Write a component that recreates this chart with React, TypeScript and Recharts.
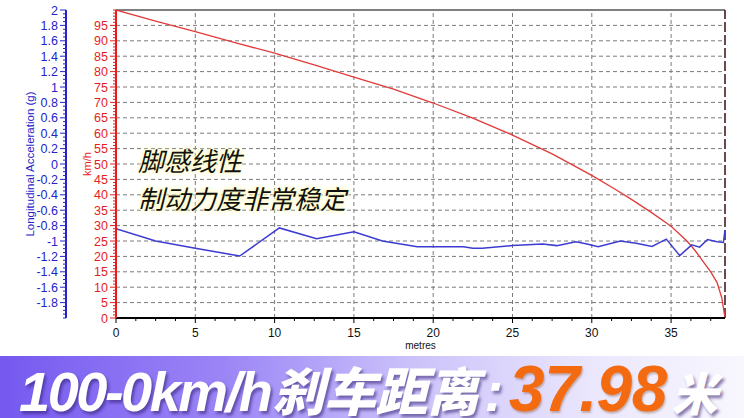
import React from 'react'
import { ComposedChart, Line, XAxis, YAxis, ReferenceLine, Label } from 'recharts'

// speed trace (km/h) vs distance (m)
const speedDist = [0, 2.5, 5, 7.5, 10, 12.5, 15, 17.5, 20, 22.5, 25, 27.5, 30, 31.5, 32.5, 33.75, 35, 36, 36.5, 37, 37.5, 37.9, 38.2, 38.4]
const speedKmh = [100, 96.4, 93, 89.4, 86, 82.2, 78.2, 74.3, 69.8, 64.9, 59.4, 53.3, 46.3, 41.7, 38.5, 34.3, 29.8, 25, 22, 18.5, 15, 11.5, 6.5, 0]

// longitudinal acceleration (g) vs distance (m)
const accelDist = [0, 2.5, 5, 7.8, 10.3, 12.65, 15, 16.8, 19, 21.9, 22.5, 23.1, 25, 26.9, 27.8, 29, 29.7, 30.4, 31.8, 32.8, 33.8, 34.7, 35.55, 36.3, 36.8, 37.3, 37.9, 38.3, 38.4]
const accelG = [-0.84, -1.0, -1.095, -1.195, -0.83, -0.97, -0.88, -1.0, -1.075, -1.075, -1.095, -1.095, -1.06, -1.04, -1.06, -1.01, -1.04, -1.075, -1.0, -1.03, -1.07, -0.975, -1.19, -1.05, -1.08, -0.98, -1.01, -1.02, -0.86]

const xMajor = [0, 5, 10, 15, 20, 25, 30, 35]
const kmhMajor = [0, 5, 10, 15, 20, 25, 30, 35, 40, 45, 50, 55, 60, 65, 70, 75, 80, 85, 90, 95]
const gMajor = [-1.8, -1.6, -1.4, -1.2, -1, -0.8, -0.6, -0.4, -0.2, 0, 0.2, 0.4, 0.6, 0.8, 1, 1.2, 1.4, 1.6, 1.8, 2]
const xGrid = [5, 10, 15, 20, 25, 30, 35]
const kmhGrid = [5, 10, 15, 20, 25, 30, 35, 40, 45, 50, 55, 60, 65, 70, 75, 80, 85, 90, 95]

const RED = '#e41e1e'
const BLUE = '#2424c8'
const LINE_BLUE = '#3c3cd2'
const GRID = '#7a7a7a'
const FONT = '"Liberation Sans", Arial, sans-serif'
const CJK = '"Noto Sans CJK SC", sans-serif'

// axis ids: the one that sorts first sits next to the plot
const KMH = 'a_kmh'
const G = 'b_g'

// minor tick positions for the axis rulers
const steps = (lo: number, hi: number, step: number) => {
  const out: number[] = []
  for (let v = lo; v <= hi + 1e-9; v += step) out.push(Math.round(v * 1000) / 1000)
  return out
}
const has = (arr: number[], v: number) => arr.some((a) => Math.abs(a - v) < 1e-6)

const speedData = speedDist.map((m, i) => ({ m, kmh: speedKmh[i] }))
const accelData = accelDist.map((m, i) => ({ m, g: accelG[i] }))

const LeftTick = (color: string, major: number[]) => (props: any) => {
  const { x, y, payload } = props
  const isMajor = has(major, payload.value)
  return (
    <g>
      <line x1={x - (isMajor ? 6 : 3)} x2={x} y1={y} y2={y} stroke={color} strokeWidth={1} />
      {isMajor && (
        <text x={x - 8} y={y} dy="0.36em" textAnchor="end" fill={color} fontSize={12.5} fontFamily={FONT}>
          {payload.value}
        </text>
      )}
    </g>
  )
}

const BottomTick = (props: any) => {
  const { x, y, payload } = props
  const isMajor = has(xMajor, payload.value)
  return (
    <g>
      <line x1={x} x2={x} y1={y} y2={y + (isMajor ? 5 : 3)} stroke="#000" strokeWidth={1} />
      {isMajor && (
        <text x={x} y={y + 15} dy="0.36em" textAnchor="middle" fill="#111" fontSize={12} fontFamily={FONT}>
          {payload.value}
        </text>
      )}
    </g>
  )
}

const whiteShadow = '2px 3px 3px rgba(50,30,110,0.55)'

export default function App() {
  return (
    <div style={{ position: 'fixed', left: 0, top: 0, width: 744, height: 418, background: '#fff', overflow: 'hidden' }}>
      <ComposedChart width={744} height={418} margin={{ top: 10, right: 19, left: 0, bottom: 70 }}>
        <XAxis
          xAxisId="m"
          type="number"
          dataKey="m"
          domain={[0, 38.4]}
          allowDataOverflow
          ticks={steps(0, 37.5, 1.25)}
          interval={0}
          tick={BottomTick}
          tickLine={false}
          tickSize={0}
          tickMargin={0}
          height={30}
          axisLine={{ stroke: '#000', strokeWidth: 2 }}
        >
          <Label value="metres" position="insideBottom" offset={-1} fontSize={10} fill="#111" fontFamily={FONT} />
        </XAxis>
        <YAxis
          yAxisId={KMH}
          orientation="left"
          type="number"
          domain={[0, 100]}
          allowDataOverflow
          ticks={steps(0, 100, 1)}
          interval={0}
          tick={LeftTick(RED, kmhMajor)}
          tickLine={false}
          tickSize={0}
          tickMargin={0}
          width={50}
          axisLine={{ stroke: RED, strokeWidth: 2 }}
        >
          <Label value="km/h" angle={-90} position="center" dx={-4} fontSize={11} fill={RED} fontFamily={FONT} />
        </YAxis>
        <YAxis
          yAxisId={G}
          orientation="left"
          type="number"
          domain={[-2, 2]}
          allowDataOverflow
          ticks={steps(-2, 2, 0.05)}
          interval={0}
          tick={LeftTick(BLUE, gMajor)}
          tickLine={false}
          tickSize={0}
          tickMargin={0}
          width={66}
          axisLine={{ stroke: BLUE, strokeWidth: 2 }}
        >
          <Label value="Longitudinal Acceleration (g)" angle={-90} position="center" dx={-3} fontSize={11.5} fill={BLUE} fontFamily={FONT} />
        </YAxis>

        {kmhGrid.map((v) => (
          <ReferenceLine key={'h' + v} xAxisId="m" yAxisId={KMH} y={v} stroke={GRID} strokeDasharray="4 3" />
        ))}
        {xGrid.map((v) => (
          <ReferenceLine key={'v' + v} xAxisId="m" yAxisId={KMH} x={v} stroke={GRID} strokeDasharray="4 3" />
        ))}
        <ReferenceLine xAxisId="m" yAxisId={KMH} y={100} stroke="#555" strokeWidth={1.5} />
        <ReferenceLine xAxisId="m" yAxisId={KMH} x={38.4} stroke="#3a1010" strokeWidth={1.5} strokeDasharray="10 3" />

        <Line
          xAxisId="m"
          yAxisId={KMH}
          data={speedData}
          dataKey="kmh"
          type="linear"
          stroke="#e23a3a"
          strokeWidth={1.3}
          dot={false}
          isAnimationActive={false}
        />
        <Line
          xAxisId="m"
          yAxisId={G}
          data={accelData}
          dataKey="g"
          type="linear"
          stroke={LINE_BLUE}
          strokeWidth={1.5}
          dot={false}
          isAnimationActive={false}
        />
      </ComposedChart>

      <div
        style={{
          position: 'absolute',
          left: 138,
          top: 141,
          fontFamily: CJK,
          fontSize: 26,
          lineHeight: '38px',
          fontStyle: 'italic',
          color: '#111',
          textShadow: '0 0 3px #ffffc8, 0 0 3px #ffffc8, 0 0 6px #fff6a8',
          whiteSpace: 'nowrap',
        }}
      >
        <div>脚感线性</div>
        <div>制动力度非常稳定</div>
      </div>

      <div
        style={{
          position: 'absolute',
          left: 0,
          top: 356,
          width: 744,
          height: 62,
          background: 'linear-gradient(90deg, #7559f0 0%, #9b85f6 30%, #cbc1fa 55%, #ebe7fd 80%, #f8f7fe 100%)',
        }}
      />
      <div
        style={{
          position: 'absolute',
          left: 19,
          top: 367,
          display: 'flex',
          alignItems: 'baseline',
          whiteSpace: 'nowrap',
          lineHeight: '44px',
          fontStyle: 'italic',
        }}
      >
        <span style={{ fontFamily: FONT, fontWeight: 700, fontSize: 56, letterSpacing: -2.5, color: '#fff', textShadow: whiteShadow }}>
          100-0km/h
        </span>
        <span style={{ fontFamily: CJK, fontWeight: 900, fontSize: 52, letterSpacing: -0.5, color: '#fff', textShadow: whiteShadow, marginLeft: 2 }}>
          刹车距离
        </span>
        <span style={{ fontFamily: FONT, fontWeight: 700, fontSize: 56, color: '#fff', textShadow: whiteShadow, marginLeft: 6 }}>
          :
        </span>
        <span
          style={{
            fontFamily: FONT,
            fontWeight: 700,
            fontSize: 64,
            letterSpacing: -0.5,
            color: '#f36a10',
            textShadow: '1px 2px 2px rgba(120,60,20,0.35)',
            marginLeft: 6,
          }}
        >
          37.98
        </span>
        <span style={{ fontFamily: CJK, fontWeight: 900, fontSize: 46, color: '#fff', textShadow: whiteShadow, marginLeft: 5 }}>
          米
        </span>
      </div>
    </div>
  )
}
